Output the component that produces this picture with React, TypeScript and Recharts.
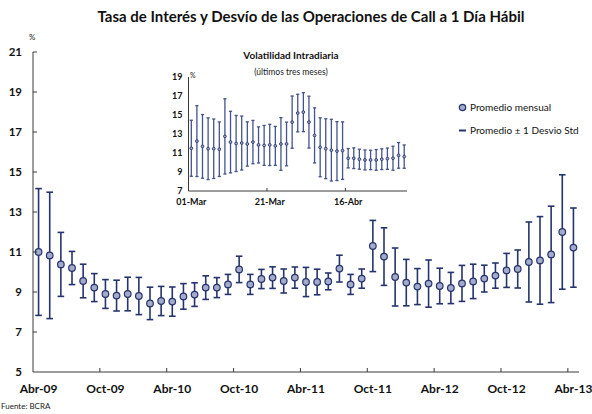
import React from 'react';
import { ComposedChart, Line, ErrorBar, XAxis, YAxis } from 'recharts';

// Serie mensual: tasa de call a 1 día hábil, promedio y desvío estándar (%)
const meses = [
  'Abr-09', 'May-09', 'Jun-09', 'Jul-09', 'Ago-09', 'Sep-09', 'Oct-09', 'Nov-09', 'Dic-09',
  'Ene-10', 'Feb-10', 'Mar-10', 'Abr-10', 'May-10', 'Jun-10', 'Jul-10', 'Ago-10', 'Sep-10',
  'Oct-10', 'Nov-10', 'Dic-10', 'Ene-11', 'Feb-11', 'Mar-11', 'Abr-11', 'May-11', 'Jun-11',
  'Jul-11', 'Ago-11', 'Sep-11', 'Oct-11', 'Nov-11', 'Dic-11', 'Ene-12', 'Feb-12', 'Mar-12',
  'Abr-12', 'May-12', 'Jun-12', 'Jul-12', 'Ago-12', 'Sep-12', 'Oct-12', 'Nov-12', 'Dic-12',
  'Ene-13', 'Feb-13', 'Mar-13', 'Abr-13',
];

const promedio = [
  11.0, 10.83, 10.38, 10.2, 9.55, 9.22, 8.9, 8.82, 8.9, 8.8, 8.43, 8.55, 8.52, 8.78, 8.87,
  9.22, 9.22, 9.38, 10.13, 9.38, 9.65, 9.72, 9.55, 9.72, 9.5, 9.5, 9.53, 10.17, 9.38, 9.67,
  11.3, 10.77, 9.75, 9.47, 9.27, 9.42, 9.3, 9.2, 9.43, 9.53, 9.67, 9.82, 10.08, 10.15, 10.5,
  10.58, 10.88, 12.0, 11.22,
];

const desvio = [
  3.17, 3.16, 1.6, 0.83, 0.84, 0.7, 0.72, 0.77, 0.84, 0.93, 0.81, 0.73, 0.73, 0.64, 0.59,
  0.59, 0.5, 0.5, 0.66, 0.5, 0.48, 0.54, 0.6, 0.53, 0.73, 0.64, 0.42, 0.67, 0.5, 0.48,
  1.28, 1.44, 1.45, 1.16, 0.9, 1.18, 0.89, 0.78, 0.9, 0.86, 0.67, 0.63, 0.85, 0.95, 2.0,
  2.19, 2.41, 2.86, 1.98,
];

const ticksMain = [5, 7, 9, 11, 13, 15, 17, 19, 21];

// Recuadro: volatilidad intradiaria, últimos tres meses
const fechas = [
  '01-Mar', '04-Mar', '05-Mar', '06-Mar', '07-Mar', '08-Mar', '11-Mar', '12-Mar', '13-Mar',
  '14-Mar', '15-Mar', '18-Mar', '19-Mar', '20-Mar', '21-Mar', '22-Mar', '25-Mar', '26-Mar',
  '27-Mar', '03-Abr', '04-Abr', '05-Abr', '08-Abr', '09-Abr', '10-Abr', '11-Abr', '12-Abr',
  '15-Abr', '16-Abr', '17-Abr', '18-Abr', '19-Abr', '22-Abr', '23-Abr', '24-Abr', '25-Abr',
  '26-Abr', '29-Abr', '30-Abr',
];

const volPromedio = [
  11.5, 12.25, 11.7, 11.45, 11.45, 11.4, 12.75, 12.15, 12.0, 12.05, 11.95, 12.15, 11.85,
  11.8, 11.85, 11.75, 11.95, 11.95, 14.25, 15.2, 15.3, 14.25, 12.85, 11.6, 11.45, 11.3,
  11.2, 11.25, 10.45, 10.45, 10.35, 10.27, 10.27, 10.27, 10.35, 10.4, 10.45, 10.75, 10.62,
];

const volDesvio = [
  2.95, 3.73, 3.35, 3.25, 3.13, 2.87, 3.96, 3.24, 2.95, 2.84, 2.33, 2.28, 1.9, 2.1, 2.17,
  2.05, 2.77, 2.3, 2.75, 1.98, 2.05, 2.73, 2.9, 3.1, 3.15, 3.25, 3.1, 3.03, 1.02, 1.09,
  1.05, 1.05, 1.02, 1.09, 1.09, 1.12, 1.26, 1.35, 1.23,
];

const ticksInset = [7, 9, 11, 13, 15, 17, 19];

const datosMensuales = meses.map((mes, i) => ({ mes, promedio: promedio[i], desvio: desvio[i] }));
const datosDiarios = fechas.map((fecha, i) => ({ fecha, promedio: volPromedio[i], desvio: volDesvio[i] }));

const FONT = 'Lato, "Open Sans", sans-serif';
const NAVY = '#25346c';
const FILL = '#a3aacb';
const AXIS = '#3a3a3a';

// half a category width, so the tick marks sit between months
const HALF_MAIN = (592 - 33 - 13) / meses.length / 2;
const HALF_INSET = (262 - 38.5 - 5) / fechas.length / 2;

const MainXTick = (props: any) => {
  const { x, y, payload } = props;
  return (
    <g>
      {payload.value !== meses[0] && (
        <line x1={x - HALF_MAIN} x2={x - HALF_MAIN} y1={y} y2={y - 4} stroke={AXIS} />
      )}
      <text x={x} y={y + 21} textAnchor="middle" fontSize={12} fontWeight={700} fontFamily={FONT} fill="#111">
        {payload.value}
      </text>
    </g>
  );
};

const MainYTick = (props: any) => {
  const { x, y, payload } = props;
  return (
    <g>
      {payload.value !== 5 && <line x1={x} x2={x + 4} y1={y} y2={y} stroke={AXIS} />}
      <text x={x - 11} y={y} dy={4} textAnchor="end" fontSize={11.5} fontWeight={700} fontFamily={FONT} fill="#111">
        {payload.value}
      </text>
    </g>
  );
};

const InsetXTick = (props: any) => {
  const { x, y, payload } = props;
  return (
    <g>
      {payload.value !== fechas[0] && (
        <line x1={x - HALF_INSET} x2={x - HALF_INSET} y1={y} y2={y - 3} stroke={AXIS} />
      )}
      <text x={x} y={y + 14} textAnchor="middle" fontSize={9} fontWeight={700} fontFamily={FONT} fill="#111">
        {payload.value}
      </text>
    </g>
  );
};

const InsetYTick = (props: any) => {
  const { x, y, payload } = props;
  return (
    <text x={x - 6} y={y} dy={3} textAnchor="end" fontSize={9} fontWeight={700} fontFamily={FONT} fill="#111">
      {payload.value}
    </text>
  );
};

export default function App() {
  return (
    <div style={{ position: 'absolute', left: 0, top: 0, width: 592, height: 414, background: '#fff', fontFamily: FONT }}>
      <div style={{ position: 'absolute', left: 0, top: 7, width: 622, textAlign: 'center', fontSize: 15, fontWeight: 700, color: '#111' }}>
        Tasa de Interés y Desvío de las Operaciones de Call a 1 Día Hábil
      </div>
      <div style={{ position: 'absolute', left: 29, top: 32, fontSize: 8, color: '#222' }}>%</div>

      <ComposedChart width={592} height={414} data={datosMensuales} margin={{ top: 52, right: 13, bottom: 12, left: 0 }}>
        <XAxis
          dataKey="mes"
          scale="point"
          padding={{ left: HALF_MAIN, right: HALF_MAIN }}
          interval={5}
          height={30}
          tickSize={0}
          tickMargin={0}
          tickLine={false}
          axisLine={{ stroke: AXIS }}
          tick={<MainXTick />}
        />
        <YAxis
          domain={[5, 21]}
          ticks={ticksMain}
          interval={0}
          width={33}
          tickSize={0}
          tickMargin={0}
          tickLine={false}
          axisLine={{ stroke: AXIS }}
          tick={<MainYTick />}
        />
        <Line
          dataKey="promedio"
          stroke="none"
          isAnimationActive={false}
          dot={{ r: 3.3, fill: FILL, stroke: NAVY, strokeWidth: 1.2 }}
          activeDot={false}
        >
          <ErrorBar dataKey="desvio" direction="y" width={3.3} stroke={NAVY} strokeWidth={1.6} isAnimationActive={false} />
        </Line>
      </ComposedChart>

      <div style={{ position: 'absolute', left: 0, top: 49, width: 582, textAlign: 'center', fontSize: 10, fontWeight: 700, color: '#111' }}>
        Volatilidad Intradiaria
      </div>
      <div style={{ position: 'absolute', left: 0, top: 67, width: 582, textAlign: 'center', fontSize: 8.5, color: '#222' }}>
        (últimos tres meses)
      </div>
      <div style={{ position: 'absolute', left: 190, top: 71, fontSize: 7, color: '#222' }}>%</div>

      <div style={{ position: 'absolute', left: 150, top: 40 }}>
        <ComposedChart width={262} height={172} data={datosDiarios} margin={{ top: 37, right: 5, bottom: 0, left: 0 }}>
          <XAxis
            dataKey="fecha"
            scale="point"
            padding={{ left: HALF_INSET, right: HALF_INSET }}
            interval={13}
            height={21}
            tickSize={0}
            tickMargin={0}
            tickLine={false}
            axisLine={{ stroke: AXIS }}
            tick={<InsetXTick />}
          />
          <YAxis
            domain={[7, 19]}
            ticks={ticksInset}
            interval={0}
            width={38.5}
            tickSize={0}
            tickMargin={0}
            tickLine={false}
            axisLine={{ stroke: AXIS }}
            tick={<InsetYTick />}
          />
          <Line
            dataKey="promedio"
            stroke="none"
            isAnimationActive={false}
            dot={{ r: 1.4, fill: FILL, stroke: NAVY, strokeWidth: 0.9 }}
            activeDot={false}
          >
            <ErrorBar dataKey="desvio" direction="y" width={1.6} stroke="#44538a" strokeWidth={1.3} isAnimationActive={false} />
          </Line>
        </ComposedChart>
      </div>

      <div style={{ position: 'absolute', left: 458, top: 101, fontSize: 10, color: '#111', lineHeight: '13px' }}>
        <div style={{ display: 'flex', alignItems: 'center', gap: 3 }}>
          <svg width={9} height={9}>
            <circle cx={4.5} cy={4.5} r={3.2} fill={FILL} stroke={NAVY} strokeWidth={1.2} />
          </svg>
          <span>Promedio mensual</span>
        </div>
        <div style={{ display: 'flex', alignItems: 'center', gap: 3, marginTop: 10 }}>
          <svg width={9} height={9}>
            <line x1={1} x2={8} y1={4.5} y2={4.5} stroke={NAVY} strokeWidth={2} />
          </svg>
          <span>Promedio ± 1 Desvio Std</span>
        </div>
      </div>

      <div style={{ position: 'absolute', left: 1, top: 401, fontSize: 8, color: '#222' }}>Fuente: BCRA</div>
    </div>
  );
}
